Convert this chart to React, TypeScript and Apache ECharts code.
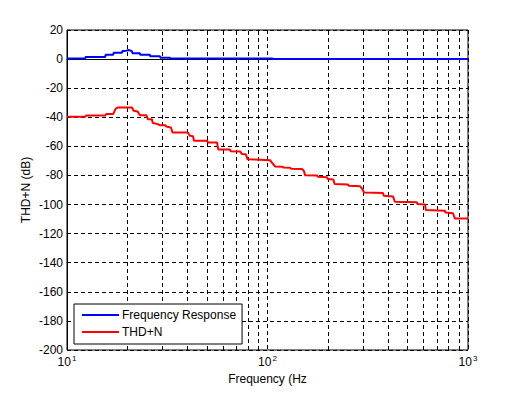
import React, { useEffect, useRef } from "react";
import * as echarts from "echarts";

const freqResponse: [number, number][] = [
  [10, 0.4], [12.3, 0.4], [12.4, 1.5], [15.5, 1.5], [15.6, 3], [17, 3], [17.1, 4.3], [18.8, 4.3],
  [18.9, 5.5], [19.8, 5.8], [20.3, 6.2], [21.1, 5.5], [21.2, 4], [23.1, 4], [23.2, 3], [25.9, 3],
  [26, 2], [29.1, 2], [29.2, 1], [32.6, 1], [32.7, 0.4], [106, 0.4], [107, 0], [1000, 0],
];

const thdN: [number, number][] = [
  [10, -39.7], [12.3, -39.7], [12.5, -38.8], [15.5, -38.8], [15.7, -37.8], [17, -37.8], [17.5, -34],
  [17.9, -33.3], [21.1, -33.3], [21.5, -35.5], [22.5, -36], [23.1, -38.6], [24.9, -38.6], [25.3, -41.3],
  [26.5, -41.3], [26.8, -44], [28.4, -44.7], [29, -45.4], [30.8, -45.4], [31.5, -46.5], [33, -47],
  [33.6, -50.5], [40.1, -50.5], [41, -52.7], [42.5, -53], [43, -56.2], [50, -56.2], [50.5, -57.3],
  [56, -57.3], [56.8, -62.1], [65, -62.1], [65.5, -63.3], [73, -63.5], [74.6, -65.3], [78, -65.5],
  [79.5, -68.8], [103, -69.5], [105, -71], [109, -73.8], [119, -74], [120, -74.5], [130, -74.7],
  [131, -75.4], [149, -75.6], [152, -77], [154, -79.8], [177, -80], [178, -80.9], [198, -81.2],
  [200, -82.5], [213, -82.8], [216, -85.9], [252, -86.2], [254, -87.1], [290, -87.5], [296, -89],
  [303, -91.7], [377, -92], [380, -94], [423, -94.5], [432, -98.1], [556, -98.5], [560, -99.7],
  [611, -100], [616, -103.8], [767, -104.2], [772, -105.5], [842, -106], [860, -109.6], [1000, -109.6],
];

const minorFreqs = [20, 30, 40, 50, 60, 70, 80, 90, 200, 300, 400, 500, 600, 700, 800, 900];

const FONT = "Liberation Sans, Arial, sans-serif";

export default function App() {
  const ref = useRef<HTMLDivElement>(null);
  useEffect(() => {
    if (!ref.current) return;
    const chart = echarts.init(ref.current, undefined, { renderer: "svg" });
    const dash = [4, 3];
    chart.setOption({
      animation: false,
      backgroundColor: "#fff",
      textStyle: { fontFamily: FONT },
      grid: {
        left: 67, top: 30, width: 401, height: 320,
        outerBoundsMode: "none", containLabel: false,
        show: true, borderColor: "#000", borderWidth: 1, backgroundColor: "transparent",
      },
      legend: {
        orient: "vertical",
        left: 74, top: 304,
        padding: [4, 6, 5, 8],
        itemGap: 3,
        itemWidth: 37, itemHeight: 2,
        icon: "rect",
        backgroundColor: "#fff",
        borderColor: "#000", borderWidth: 1, borderRadius: 0,
        textStyle: { fontFamily: FONT, fontSize: 12, lineHeight: 14, color: "#000", padding: [0, 0, 0, -2] },
        data: ["Frequency Response", "THD+N"],
      },
      xAxis: {
        type: "log", logBase: 10, min: 10, max: 1000,
        name: "Frequency (Hz", nameLocation: "middle", nameGap: 22, nameMoveOverlap: false,
        nameTextStyle: { fontFamily: FONT, fontSize: 12, lineHeight: 13, color: "#000" },
        axisLine: { show: true, lineStyle: { color: "#000", width: 1 } },
        axisTick: { show: false },
        axisLabel: {
          color: "#000", margin: 6,
          formatter: (v: number) => `{b|10}{s|${Math.round(Math.log10(v))}}`,
          rich: {
            b: { fontFamily: FONT, fontSize: 12, lineHeight: 12, color: "#000", verticalAlign: "bottom" },
            s: { fontFamily: FONT, fontSize: 8, lineHeight: 8, color: "#000", verticalAlign: "bottom", padding: [0, 0, 6, 1] },
          },
        },
        splitLine: { show: true, lineStyle: { color: "#000", type: dash, width: 1 } },
      },
      yAxis: {
        type: "value", min: -200, max: 20, interval: 20,
        name: "THD+N (dB)", nameLocation: "middle", nameGap: 35, nameMoveOverlap: false,
        nameTextStyle: { fontFamily: FONT, fontSize: 12, color: "#000" },
        axisLine: { show: true, lineStyle: { color: "#000", width: 1 } },
        axisTick: { show: false },
        axisLabel: { color: "#000", fontFamily: FONT, fontSize: 12, lineHeight: 10, margin: 4 },
        splitLine: { show: true, lineStyle: { color: "#000", type: dash, width: 1 } },
      },
      series: [
        {
          name: "Frequency Response", type: "line", data: freqResponse,
          showSymbol: false, symbol: "none",
          lineStyle: { color: "#0000ff", width: 2 }, itemStyle: { color: "#0000ff" },
          z: 3,
          markLine: {
            silent: true, symbol: "none", label: { show: false },
            lineStyle: { color: "#000", type: dash, width: 1 },
            emphasis: { disabled: true },
            data: minorFreqs.map((f) => ({ xAxis: f })),
            z: 1,
          },
        },
        {
          name: "THD+N", type: "line", data: thdN,
          showSymbol: false, symbol: "none",
          lineStyle: { color: "#ff0000", width: 2 }, itemStyle: { color: "#ff0000" },
          z: 3,
        },
      ],
    });
    return () => chart.dispose();
  }, []);
  return <div ref={ref} style={{ width: 518, height: 394, position: "absolute", left: 0, top: 0 }} />;
}
